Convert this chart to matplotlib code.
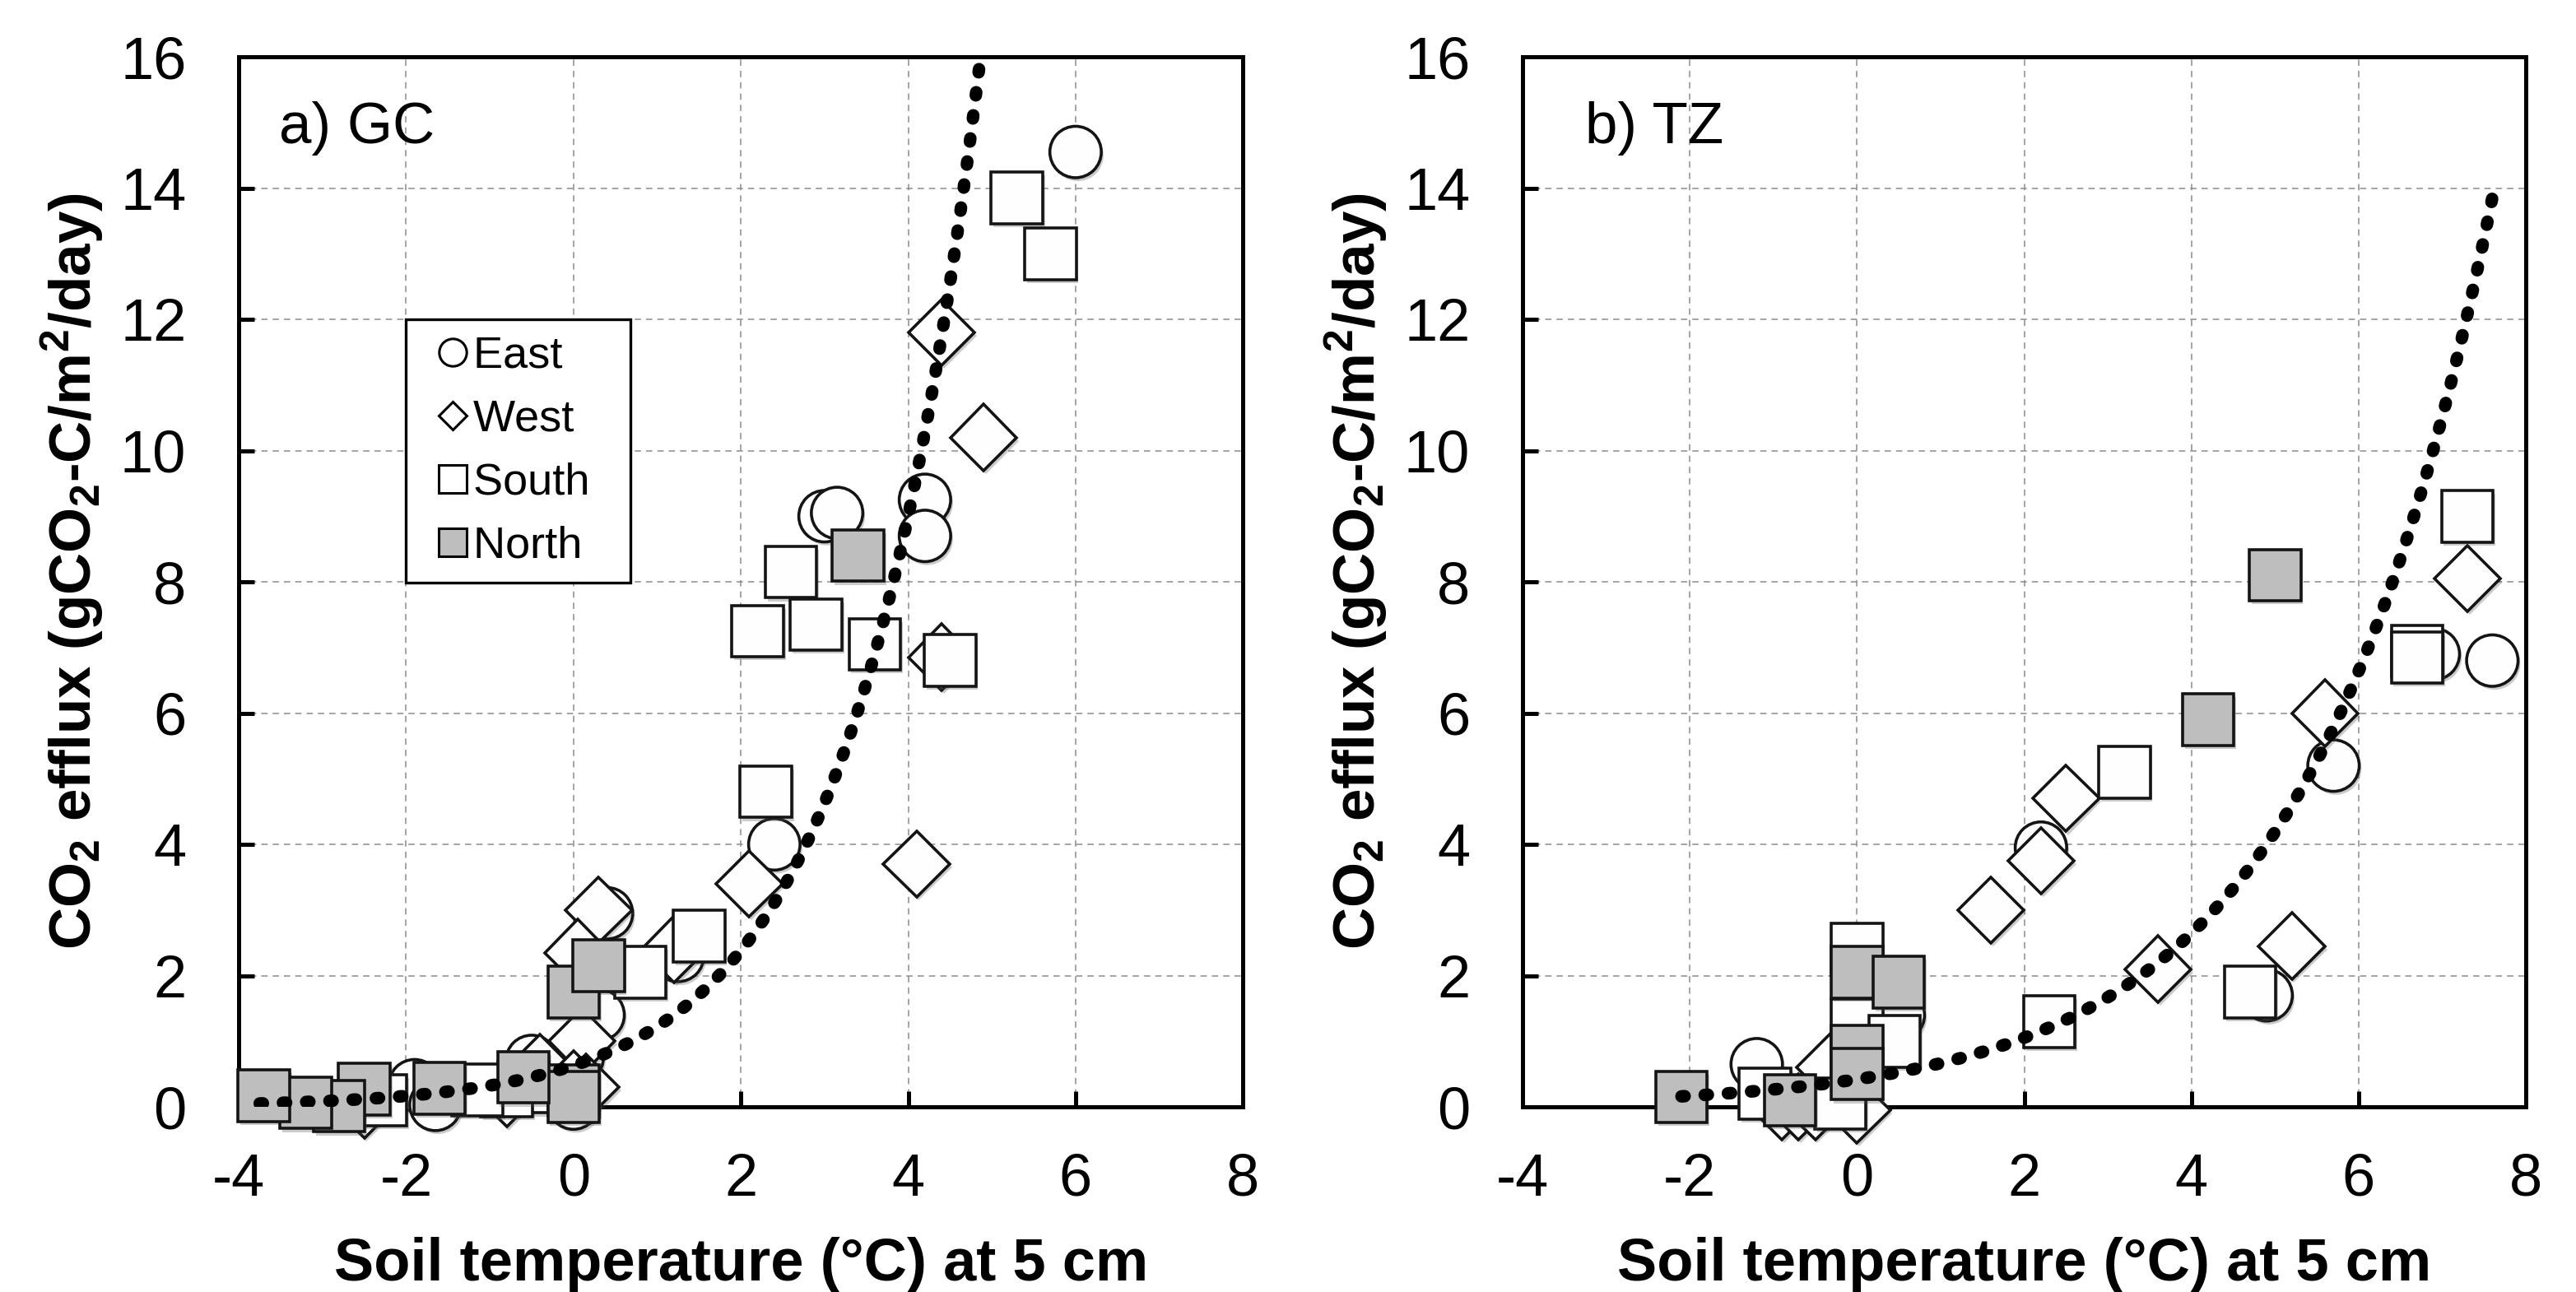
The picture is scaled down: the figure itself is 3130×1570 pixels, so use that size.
import numpy as np
import matplotlib
matplotlib.use("Agg")
import matplotlib.pyplot as plt
import matplotlib.patheffects as pe
from matplotlib.lines import Line2D

plt.rcParams['font.family'] = ['Liberation Sans', 'DejaVu Sans']
plt.rcParams['mathtext.fontset'] = 'custom'
plt.rcParams['mathtext.rm'] = 'Liberation Sans'
plt.rcParams['mathtext.bf'] = 'Liberation Sans:bold'
plt.rcParams['mathtext.default'] = 'bf'
plt.rcParams['axes.unicode_minus'] = False

# ---- data: (soil temperature degC, CO2 efflux) ----
# a) GC
gc_east_x = [6.0, 4.2, 4.2, 3.0, 3.15, 2.4, 1.25, 0.4, 0.3, 0.05, -0.5, 0.0, -1.9, -1.65]
gc_east_y = [14.55, 9.25, 8.7, 9.0, 9.05, 4.0, 2.3, 2.95, 1.4, 0.75, 0.7, 0.05, 0.33, 0.03]
gc_west_x = [4.4, 4.9, 4.4, 4.1, 2.1, 0.3, 0.05, 1.2, 0.1, -0.4, 0.0, 0.15, -0.8, -2.5]
gc_west_y = [11.8, 10.2, 6.85, 3.7, 3.4, 3.0, 2.35, 2.4, 1.0, 0.6, 0.35, 0.3, 0.2, 0.03]
gc_south_x = [5.3, 5.7, 2.6, 2.2, 2.9, 3.6, 4.5, 2.3, 1.5, 0.8, -0.6, -0.8, -1.15, -2.3]
gc_south_y = [13.85, 13.0, 8.15, 7.25, 7.35, 7.05, 6.8, 4.8, 2.6, 2.05, 0.3, 0.24, 0.26, 0.1]
gc_north_x = [3.4, 0.0, 0.3, 0.0, 0.0, -0.6, -1.6, -2.5, -2.8, -3.2, -3.7]
gc_north_y = [8.4, 1.75, 2.15, 0.25, 0.15, 0.45, 0.28, 0.27, 0.01, 0.06, 0.17]

# b) TZ
tz_east_x = [-1.2, 0.5, 2.2, 5.7, 6.9, 7.6, 4.9]
tz_east_y = [0.65, 1.4, 3.95, 5.2, 6.9, 6.8, 1.7]
tz_west_x = [1.6, 2.2, 2.5, 3.6, 5.2, 5.6, 7.3, -0.9, -0.7, -0.5, 0.0, -0.33]
tz_west_y = [3.0, 3.75, 4.7, 2.1, 2.45, 6.0, 8.05, 0.0, 0.0, 0.0, -0.05, 0.6]
tz_south_x = [7.3, 6.7, 6.7, 3.2, 4.7, 2.3, -1.1, -0.2, 0.0, 0.0, 0.45]
tz_south_y = [9.0, 6.95, 6.85, 5.1, 1.75, 1.3, 0.2, 0.05, 2.4, 1.25, 1.0]
tz_north_x = [-2.1, -0.8, 0.0, 0.0, 0.0, 0.5, 4.2, 5.0]
tz_north_y = [0.15, 0.1, 2.05, 0.85, 0.5, 1.9, 5.9, 8.1]

# exponential trend lines y = a*exp(b*x)
gc_trend = dict(a=0.63, b=0.665, xmin=-3.75, xmax=4.85)
tz_trend = dict(a=0.42, b=0.46, xmin=-2.1, xmax=7.6)

series_names = ['East', 'West', 'South', 'North']
markers = {'East': 'o', 'West': 'D', 'South': 's', 'North': 's'}
msizes = {'East': 45, 'West': 41, 'South': 45, 'North': 45}
faces = {'East': '#fefefe', 'West': '#fefefe', 'South': '#fefefe', 'North': '#bebebe'}
edge = '#141414'

shadow = [pe.SimplePatchShadow(offset=(2, -3), shadow_rgbFace='#555555', alpha=0.3), pe.Normal()]

fig = plt.figure(figsize=(31.3, 15.7), dpi=100)
ax_a = fig.add_axes([0.0927, 0.1433, 0.3898, 0.8127])
ax_b = fig.add_axes([0.5911, 0.1433, 0.3894, 0.8127])

panels = [
    (ax_a, 'a) GC', 0.040,
     {'East': (gc_east_x, gc_east_y), 'West': (gc_west_x, gc_west_y),
      'South': (gc_south_x, gc_south_y), 'North': (gc_north_x, gc_north_y)}, gc_trend),
    (ax_b, 'b) TZ', 0.062,
     {'East': (tz_east_x, tz_east_y), 'West': (tz_west_x, tz_west_y),
      'South': (tz_south_x, tz_south_y), 'North': (tz_north_x, tz_north_y)}, tz_trend),
]

for ax, title, tx, data, trend in panels:
    for i, name in enumerate(series_names):
        xs, ys = data[name]
        ax.plot(xs, ys, linestyle='none', marker=markers[name], ms=msizes[name],
                mfc=faces[name], mec=edge, mew=2.6, clip_on=False,
                zorder=4 + i, path_effects=shadow)

    xt = np.linspace(trend['xmin'], trend['xmax'], 400)
    ax.plot(xt, trend['a'] * np.exp(trend['b'] * xt), color='black', lw=11,
            linestyle=(0, (0.25, 1.6)), dash_capstyle='round', zorder=10)

    ax.set_xlim(-4, 8)
    ax.set_ylim(0, 16)
    ax.set_xticks(np.arange(-4, 9, 2))
    ax.set_yticks(np.arange(0, 17, 2))
    ax.grid(True, color='#8c8c8c', lw=1.1, linestyle=(0, (5, 4)))
    ax.set_axisbelow(True)
    for sp in ax.spines.values():
        sp.set_linewidth(3.6)
        sp.set_color('black')
    ax.tick_params(axis='both', direction='in', length=14, width=3.6, labelsize=52)
    ax.tick_params(axis='x', pad=40)
    ax.tick_params(axis='y', pad=46)

    ax.set_xlabel('Soil temperature (\u00b0C) at 5 cm', fontsize=52, fontweight='bold')
    ax.xaxis.set_label_coords(0.5, -0.124)
    ax.set_ylabel(r'CO$_2$ efflux (gCO$_2$-C/m$^2$/day)', fontsize=51, fontweight='bold')
    ax.yaxis.set_label_coords(-0.133, 0.51)

    ax.text(tx, 0.918, title, transform=ax.transAxes, fontsize=51, va='baseline', ha='left')

# legend (panel a only)
handles = [
    Line2D([], [], linestyle='none', marker='o', ms=24, mfc='white', mec='black', mew=2.2),
    Line2D([], [], linestyle='none', marker='D', ms=17, mfc='white', mec='black', mew=2.2),
    Line2D([], [], linestyle='none', marker='s', ms=24, mfc='white', mec='black', mew=2.2),
    Line2D([], [], linestyle='none', marker='s', ms=24, mfc='#bebebe', mec='black', mew=2.2),
]
leg = ax_a.legend(handles, [n + '  ' for n in series_names], loc='upper left',
                  bbox_to_anchor=(1 / 6, 0.75), borderaxespad=0, fontsize=39,
                  frameon=True, fancybox=False, edgecolor='black', framealpha=1,
                  borderpad=0.36, labelspacing=0.5, handlelength=1.35, handletextpad=-0.2)
leg.get_frame().set_linewidth(2.4)
leg.set_zorder(20)

fig.savefig('out.png', dpi=100, facecolor='white')
